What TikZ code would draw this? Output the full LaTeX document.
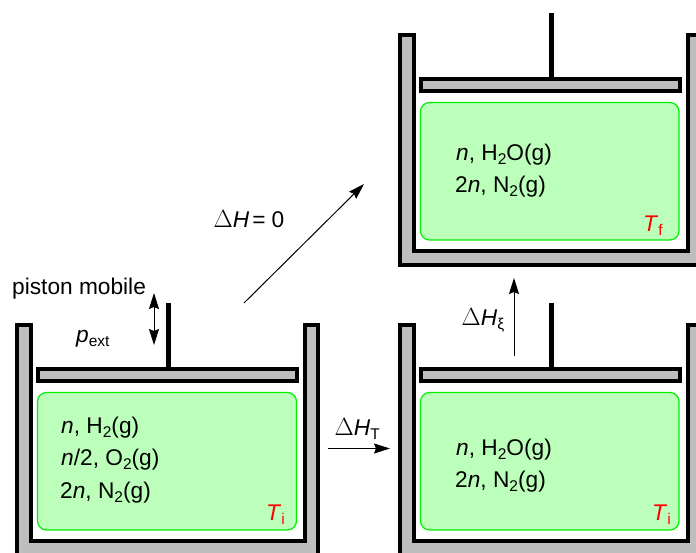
\documentclass[tikz,border=0pt]{standalone}
\usepackage{fontspec}
\setmainfont{Liberation Sans}
\usetikzlibrary{arrows.meta}
\definecolor{wallgray}{HTML}{BEBEBE}
\definecolor{gasgreen}{HTML}{BBFFBB}
\definecolor{gasedge}{HTML}{00EE00}
\newcommand{\ind}[1]{\raisebox{-0.2em}{\fontsize{15.5}{18}\selectfont #1}}
\newcommand{\dl}{{\fontsize{23.5}{28}\selectfont$\Delta$}}
\tikzset{
    wall/.style={draw=black,fill=wallgray,line width=4pt,miter limit=10},
    rod/.style={line width=4.5pt},
    gas/.style={draw=gasedge,fill=gasgreen,line width=1.2pt,rounded corners=9pt},
    txt/.style={anchor=base west,inner sep=0pt,font=\fontsize{22.7}{27}\selectfont},
    temp/.style={txt,text=red},
    flow/.style={line width=1pt,-{Stealth[length=16pt,width=10pt,inset=2pt]}},
    both/.style={line width=1pt,{Stealth[length=16pt,width=10pt,inset=2pt]}-{Stealth[length=16pt,width=10pt,inset=2pt]}}
}
\begin{document}
\begin{tikzpicture}[x=1pt,y=-1pt]
        \useasboundingbox (0,0) rectangle (696,552);
        \clip (0,0) rectangle (696,552);
        \draw[wall] (17,325) -- (17,554.5) -- (318,554.5) -- (318,325) -- (305,325) -- (305,541) -- (31,541) -- (31,325) -- cycle;
        \draw[wall] (400,325) -- (400,554.5) -- (701,554.5) -- (701,325) -- (688,325) -- (688,541) -- (414,541) -- (414,325) -- cycle;
        \draw[wall] (400,35) -- (400,264.5) -- (701,264.5) -- (701,35) -- (688,35) -- (688,251) -- (414,251) -- (414,35) -- cycle;
        \draw[wall] (38,369) rectangle (296.5,381);
        \draw[wall] (421,369) rectangle (679.5,381);
        \draw[wall] (421,79) rectangle (679.5,91);
        \draw[rod] (168.5,303) -- (168.5,368);
        \draw[rod] (551.5,303) -- (551.5,368);
        \draw[rod] (551.5,13) -- (551.5,78);
        \draw[gas] (37.5,392.5) rectangle (296.5,530);
        \draw[gas] (420.5,392.5) rectangle (679,530);
        \draw[gas] (420.5,102.5) rectangle (679,240);
        \node[txt] (pistonlabel) at (12,294) {piston mobile};
        \node[txt] (pextlabel) at (76,342) {\textit{p}\ind{ext}};
        \node[txt] (hleft) at (61,433) {\textit{n}, H\ind{2}(g)};
        \node[txt] (oleft) at (61,465) {\textit{n}/2, O\ind{2}(g)};
        \node[txt] (nleft) at (60,498) {2\textit{n}, N\ind{2}(g)};
        \node[temp] (tleft) at (266,520) {\textit{T}\ind{i}};
        \node[txt] (wright) at (456,455) {\textit{n}, H\ind{2}O(g)};
        \node[txt] (nright) at (455,487) {2\textit{n}, N\ind{2}(g)};
        \node[temp] (tright) at (652,520) {\textit{T}\ind{i}};
        \node[txt] (wtop) at (456,160) {\textit{n}, H\ind{2}O(g)};
        \node[txt] (ntop) at (455,192) {2\textit{n}, N\ind{2}(g)};
        \node[temp] (ttop) at (643,231) {\textit{T}\ind{f}};
        \node[txt] (hzero) at (213.5,227) {\dl\textit{H}\hspace{3pt}=\hspace{6pt}0};
        \node[txt] (htemp) at (334.5,435) {\dl\textit{H}\ind{T}};
        \node[txt] (hxi) at (461.5,325) {\dl\textit{H}\ind{ξ}};
        \coordinate (pistonup) at (154,293);
        \coordinate (pistondown) at (154,345);
        \coordinate (zerostart) at (244,303);
        \coordinate (zeroend) at (364,184);
        \coordinate (tempstart) at (328,448.5);
        \coordinate (tempend) at (390,448.5);
        \coordinate (xistart) at (514,356);
        \coordinate (xiend) at (514,278);
        \draw[both] (pistonup) -- (pistondown);
        \draw[flow] (zerostart) -- (zeroend);
        \draw[flow] (tempstart) -- (tempend);
        \draw[flow] (xistart) -- (xiend);
\end{tikzpicture}
\end{document}
